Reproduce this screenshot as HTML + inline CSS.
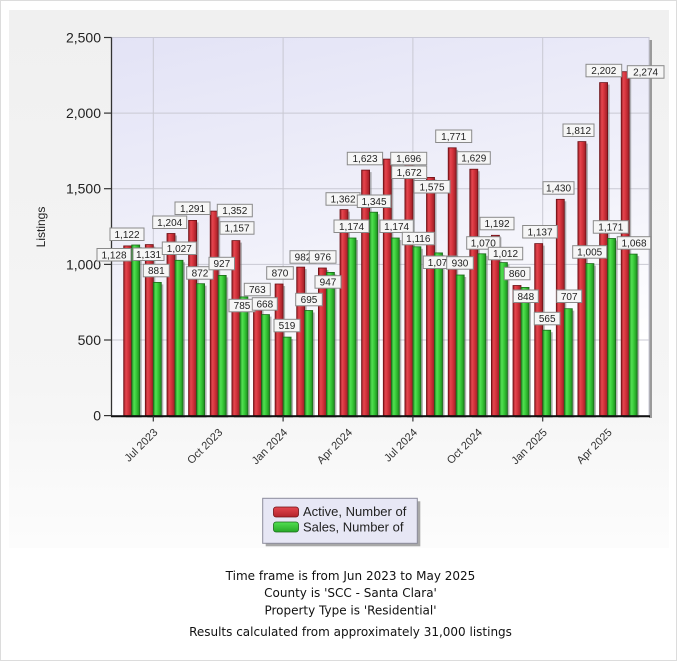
<!DOCTYPE html>
<html><head><meta charset="utf-8"><style>
html,body{margin:0;padding:0;background:#fff;}
svg{display:block;}
.lb rect{fill:#f6f6f6;stroke:#8a8a8a;stroke-width:1;}
.lb text{font-family:"Liberation Sans",sans-serif;font-size:10px;fill:#222;text-anchor:middle;}
.yt{font-family:"Liberation Sans",sans-serif;font-size:14px;fill:#222;text-anchor:end;}
.xt{font-family:"Liberation Sans",sans-serif;font-size:11px;fill:#333;text-anchor:end;}
.ft{font-family:"DejaVu Sans",sans-serif;font-size:12px;fill:#111;text-anchor:middle;}
</style></head><body>
<svg width="679" height="661" viewBox="0 0 679 661" xmlns="http://www.w3.org/2000/svg">
<defs>
<linearGradient id="pbg" x1="0" y1="0" x2="0.3" y2="1">
<stop offset="0" stop-color="#e3e3f6"/><stop offset="0.6" stop-color="#f1f1fa"/><stop offset="1" stop-color="#ffffff"/>
</linearGradient>
<linearGradient id="panel" x1="0" y1="0" x2="0" y2="1">
<stop offset="0" stop-color="#f0f0f0"/><stop offset="0.7" stop-color="#f5f5f5"/><stop offset="1" stop-color="#fcfcfc"/>
</linearGradient>
<linearGradient id="rg" x1="0" y1="0" x2="1" y2="0">
<stop offset="0" stop-color="#951b22"/><stop offset="0.28" stop-color="#e4464f"/><stop offset="0.55" stop-color="#d5333c"/><stop offset="1" stop-color="#9a1e26"/>
</linearGradient>
<linearGradient id="gg" x1="0" y1="0" x2="1" y2="0">
<stop offset="0" stop-color="#1f8c1f"/><stop offset="0.3" stop-color="#52e052"/><stop offset="0.6" stop-color="#36c836"/><stop offset="1" stop-color="#1e8a1e"/>
</linearGradient>
<linearGradient id="rgv" x1="0" y1="0" x2="0" y2="1">
<stop offset="0" stop-color="#e4464f"/><stop offset="1" stop-color="#b3232b"/>
</linearGradient>
<linearGradient id="ggv" x1="0" y1="0" x2="0" y2="1">
<stop offset="0" stop-color="#52e052"/><stop offset="1" stop-color="#26a826"/>
</linearGradient>
</defs>

<!-- page border & panel -->
<rect x="0.5" y="0.5" width="676" height="660" fill="#fff" stroke="#dcdcdc"/>
<rect x="9" y="10" width="660" height="538" fill="url(#panel)"/>

<!-- plot area -->
<rect x="649" y="40" width="3" height="378" fill="#9a9a9a"/>
<rect x="111.5" y="37.5" width="537.5" height="378.1" fill="url(#pbg)" stroke="#c8c8d6" stroke-width="1"/>

<!-- grid -->
<g stroke="#c9c9d3" stroke-width="1">
<line x1="111.5" y1="340" x2="649" y2="340"/>
<line x1="111.5" y1="264.4" x2="649" y2="264.4"/>
<line x1="111.5" y1="188.7" x2="649" y2="188.7"/>
<line x1="111.5" y1="113.1" x2="649" y2="113.1"/>
<line x1="153.3" y1="37.5" x2="153.3" y2="415.6"/>
<line x1="283.1" y1="37.5" x2="283.1" y2="415.6"/>
<line x1="412.9" y1="37.5" x2="412.9" y2="415.6"/>
<line x1="542.7" y1="37.5" x2="542.7" y2="415.6"/>
</g>

<!-- bars -->
<g stroke-width="0.8">
<g fill="#777" opacity="0.55">
<rect x="125.7" y="247.9" width="8" height="169.7"/><rect x="133.7" y="247" width="8" height="170.6"/>
<rect x="147.3" y="246.6" width="8" height="171"/><rect x="155.3" y="284.4" width="8" height="133.2"/>
<rect x="169" y="235.5" width="8" height="182.1"/><rect x="177" y="262.3" width="8" height="155.3"/>
<rect x="190.6" y="222.4" width="8" height="195.2"/><rect x="198.6" y="285.7" width="8" height="131.9"/>
<rect x="212.2" y="213.1" width="8" height="204.5"/><rect x="220.2" y="277.4" width="8" height="140.2"/>
<rect x="233.9" y="242.6" width="8" height="175"/><rect x="241.9" y="298.9" width="8" height="118.7"/>
<rect x="255.5" y="302.2" width="8" height="115.4"/><rect x="263.5" y="316.6" width="8" height="101"/>
<rect x="277.1" y="286" width="8" height="131.6"/><rect x="285.1" y="339.1" width="8" height="78.5"/>
<rect x="298.7" y="269.1" width="8" height="148.5"/><rect x="306.7" y="312.5" width="8" height="105.1"/>
<rect x="320.4" y="270" width="8" height="147.6"/><rect x="328.4" y="274.4" width="8" height="143.2"/>
<rect x="342" y="211.6" width="8" height="206"/><rect x="350" y="240" width="8" height="177.6"/>
<rect x="363.6" y="172.1" width="8" height="245.5"/><rect x="371.6" y="214.2" width="8" height="203.4"/>
<rect x="385.3" y="161.1" width="8" height="256.5"/><rect x="393.3" y="240" width="8" height="177.6"/>
<rect x="406.9" y="164.7" width="8" height="252.9"/><rect x="414.9" y="248.8" width="8" height="168.8"/>
<rect x="428.5" y="179.4" width="8" height="238.2"/><rect x="436.5" y="254.9" width="8" height="162.7"/>
<rect x="450.2" y="149.8" width="8" height="267.8"/><rect x="458.2" y="277" width="8" height="140.6"/>
<rect x="471.8" y="171.2" width="8" height="246.4"/><rect x="479.8" y="255.8" width="8" height="161.8"/>
<rect x="493.4" y="237.3" width="8" height="180.3"/><rect x="501.4" y="264.6" width="8" height="153"/>
<rect x="515" y="287.5" width="8" height="130.1"/><rect x="523" y="289.4" width="8" height="128.2"/>
<rect x="536.7" y="245.6" width="8" height="172"/><rect x="544.7" y="332.2" width="8" height="85.4"/>
<rect x="558.3" y="201.3" width="8" height="216.3"/><rect x="566.3" y="310.7" width="8" height="106.9"/>
<rect x="579.9" y="143.6" width="8" height="274"/><rect x="587.9" y="265.6" width="8" height="152"/>
<rect x="601.6" y="84.6" width="8" height="333"/><rect x="609.6" y="240.5" width="8" height="177.1"/>
<rect x="623.2" y="73.7" width="8" height="343.9"/><rect x="631.2" y="256.1" width="8" height="161.5"/>
</g>
<g>
<rect x="123.7" y="245.9" width="8" height="169.7" fill="url(#rg)" stroke="#6d1015"/><rect x="131.7" y="245" width="8" height="170.6" fill="url(#gg)" stroke="#1a6a1a"/>
<rect x="145.3" y="244.6" width="8" height="171" fill="url(#rg)" stroke="#6d1015"/><rect x="153.3" y="282.4" width="8" height="133.2" fill="url(#gg)" stroke="#1a6a1a"/>
<rect x="167" y="233.5" width="8" height="182.1" fill="url(#rg)" stroke="#6d1015"/><rect x="175" y="260.3" width="8" height="155.3" fill="url(#gg)" stroke="#1a6a1a"/>
<rect x="188.6" y="220.4" width="8" height="195.2" fill="url(#rg)" stroke="#6d1015"/><rect x="196.6" y="283.7" width="8" height="131.9" fill="url(#gg)" stroke="#1a6a1a"/>
<rect x="210.2" y="211.1" width="8" height="204.5" fill="url(#rg)" stroke="#6d1015"/><rect x="218.2" y="275.4" width="8" height="140.2" fill="url(#gg)" stroke="#1a6a1a"/>
<rect x="231.9" y="240.6" width="8" height="175" fill="url(#rg)" stroke="#6d1015"/><rect x="239.9" y="296.9" width="8" height="118.7" fill="url(#gg)" stroke="#1a6a1a"/>
<rect x="253.5" y="300.2" width="8" height="115.4" fill="url(#rg)" stroke="#6d1015"/><rect x="261.5" y="314.6" width="8" height="101" fill="url(#gg)" stroke="#1a6a1a"/>
<rect x="275.1" y="284" width="8" height="131.6" fill="url(#rg)" stroke="#6d1015"/><rect x="283.1" y="337.1" width="8" height="78.5" fill="url(#gg)" stroke="#1a6a1a"/>
<rect x="296.7" y="267.1" width="8" height="148.5" fill="url(#rg)" stroke="#6d1015"/><rect x="304.7" y="310.5" width="8" height="105.1" fill="url(#gg)" stroke="#1a6a1a"/>
<rect x="318.4" y="268" width="8" height="147.6" fill="url(#rg)" stroke="#6d1015"/><rect x="326.4" y="272.4" width="8" height="143.2" fill="url(#gg)" stroke="#1a6a1a"/>
<rect x="340" y="209.6" width="8" height="206" fill="url(#rg)" stroke="#6d1015"/><rect x="348" y="238" width="8" height="177.6" fill="url(#gg)" stroke="#1a6a1a"/>
<rect x="361.6" y="170.1" width="8" height="245.5" fill="url(#rg)" stroke="#6d1015"/><rect x="369.6" y="212.2" width="8" height="203.4" fill="url(#gg)" stroke="#1a6a1a"/>
<rect x="383.3" y="159.1" width="8" height="256.5" fill="url(#rg)" stroke="#6d1015"/><rect x="391.3" y="238" width="8" height="177.6" fill="url(#gg)" stroke="#1a6a1a"/>
<rect x="404.9" y="162.7" width="8" height="252.9" fill="url(#rg)" stroke="#6d1015"/><rect x="412.9" y="246.8" width="8" height="168.8" fill="url(#gg)" stroke="#1a6a1a"/>
<rect x="426.5" y="177.4" width="8" height="238.2" fill="url(#rg)" stroke="#6d1015"/><rect x="434.5" y="252.9" width="8" height="162.7" fill="url(#gg)" stroke="#1a6a1a"/>
<rect x="448.2" y="147.8" width="8" height="267.8" fill="url(#rg)" stroke="#6d1015"/><rect x="456.2" y="275" width="8" height="140.6" fill="url(#gg)" stroke="#1a6a1a"/>
<rect x="469.8" y="169.2" width="8" height="246.4" fill="url(#rg)" stroke="#6d1015"/><rect x="477.8" y="253.8" width="8" height="161.8" fill="url(#gg)" stroke="#1a6a1a"/>
<rect x="491.4" y="235.3" width="8" height="180.3" fill="url(#rg)" stroke="#6d1015"/><rect x="499.4" y="262.6" width="8" height="153" fill="url(#gg)" stroke="#1a6a1a"/>
<rect x="513" y="285.5" width="8" height="130.1" fill="url(#rg)" stroke="#6d1015"/><rect x="521" y="287.4" width="8" height="128.2" fill="url(#gg)" stroke="#1a6a1a"/>
<rect x="534.7" y="243.6" width="8" height="172" fill="url(#rg)" stroke="#6d1015"/><rect x="542.7" y="330.2" width="8" height="85.4" fill="url(#gg)" stroke="#1a6a1a"/>
<rect x="556.3" y="199.3" width="8" height="216.3" fill="url(#rg)" stroke="#6d1015"/><rect x="564.3" y="308.7" width="8" height="106.9" fill="url(#gg)" stroke="#1a6a1a"/>
<rect x="577.9" y="141.6" width="8" height="274" fill="url(#rg)" stroke="#6d1015"/><rect x="585.9" y="263.6" width="8" height="152" fill="url(#gg)" stroke="#1a6a1a"/>
<rect x="599.6" y="82.6" width="8" height="333" fill="url(#rg)" stroke="#6d1015"/><rect x="607.6" y="238.5" width="8" height="177.1" fill="url(#gg)" stroke="#1a6a1a"/>
<rect x="621.2" y="71.7" width="8" height="343.9" fill="url(#rg)" stroke="#6d1015"/><rect x="629.2" y="254.1" width="8" height="161.5" fill="url(#gg)" stroke="#1a6a1a"/>
</g>
</g>

<!-- axes -->
<line x1="111.5" y1="37.5" x2="111.5" y2="416.5" stroke="#333" stroke-width="1.3"/>
<line x1="111" y1="416.2" x2="650" y2="416.2" stroke="#111" stroke-width="2"/>
<g stroke="#333" stroke-width="1.2">
<line x1="104" y1="415.6" x2="111.5" y2="415.6"/>
<line x1="104" y1="340" x2="111.5" y2="340"/>
<line x1="104" y1="264.4" x2="111.5" y2="264.4"/>
<line x1="104" y1="188.7" x2="111.5" y2="188.7"/>
<line x1="104" y1="113.1" x2="111.5" y2="113.1"/>
<line x1="104" y1="37.5" x2="111.5" y2="37.5"/>
<line x1="153.3" y1="416" x2="153.3" y2="421.5"/>
<line x1="283.1" y1="416" x2="283.1" y2="421.5"/>
<line x1="412.9" y1="416" x2="412.9" y2="421.5"/>
<line x1="542.7" y1="416" x2="542.7" y2="421.5"/>
</g>

<!-- y tick labels -->
<text class="yt" x="101" y="420.6">0</text>
<text class="yt" x="101" y="345">500</text>
<text class="yt" x="101" y="269.4">1,000</text>
<text class="yt" x="101" y="193.7">1,500</text>
<text class="yt" x="101" y="118.1">2,000</text>
<text class="yt" x="101" y="42.5">2,500</text>
<text x="45" y="227" transform="rotate(-90 45 227)" text-anchor="middle" font-family="Liberation Sans, sans-serif" font-size="12" fill="#222">Listings</text>

<!-- x tick labels -->
<text class="xt" transform="translate(158.3 433) rotate(-45)">Jul 2023</text>
<text class="xt" transform="translate(223.2 433) rotate(-45)">Oct 2023</text>
<text class="xt" transform="translate(288.1 433) rotate(-45)">Jan 2024</text>
<text class="xt" transform="translate(353 433) rotate(-45)">Apr 2024</text>
<text class="xt" transform="translate(417.9 433) rotate(-45)">Jul 2024</text>
<text class="xt" transform="translate(482.8 433) rotate(-45)">Oct 2024</text>
<text class="xt" transform="translate(547.7 433) rotate(-45)">Jan 2025</text>
<text class="xt" transform="translate(612.6 433) rotate(-45)">Apr 2025</text>

<!-- data labels -->
<g class="lb">
<rect x="110" y="228" width="34" height="12.5"/><text x="127" y="237.8">1,122</text>
<rect x="97" y="248.5" width="34" height="12.5"/><text x="114" y="258.3">1,128</text>
<rect x="133" y="248" width="31" height="12.5"/><text x="148.5" y="257.8">1,131</text>
<rect x="143.3" y="264.3" width="26" height="12.5"/><text x="156.3" y="274.1">881</text>
<rect x="152.7" y="216" width="34" height="12.5"/><text x="169.7" y="225.8">1,204</text>
<rect x="162.3" y="242" width="34" height="12.5"/><text x="179.3" y="251.8">1,027</text>
<rect x="175" y="202" width="35" height="12.5"/><text x="192.5" y="211.8">1,291</text>
<rect x="186.7" y="266.7" width="26.5" height="12.5"/><text x="200" y="276.5">872</text>
<rect x="217.3" y="204.3" width="35" height="12.5"/><text x="234.8" y="214.1">1,352</text>
<rect x="209" y="257.3" width="25.5" height="12.5"/><text x="221.8" y="267.1">927</text>
<rect x="220" y="221.7" width="34" height="12.5"/><text x="237" y="231.5">1,157</text>
<rect x="229" y="299.3" width="26" height="12.5"/><text x="242" y="309.1">785</text>
<rect x="244.3" y="283.3" width="26" height="12.5"/><text x="257.3" y="293.1">763</text>
<rect x="252.3" y="297.7" width="25" height="12.5"/><text x="264.8" y="307.5">668</text>
<rect x="266.7" y="266.7" width="26.6" height="12.5"/><text x="280" y="276.5">870</text>
<rect x="274" y="319.3" width="26" height="12.5"/><text x="287" y="329.1">519</text>
<rect x="290" y="250.7" width="26" height="12.5"/><text x="303" y="260.5">982</text>
<rect x="295.7" y="293.3" width="26.6" height="12.5"/><text x="309" y="303.1">695</text>
<rect x="309.3" y="250.7" width="26.7" height="12.5"/><text x="322.7" y="260.5">976</text>
<rect x="315" y="275.7" width="26" height="12.5"/><text x="328" y="285.5">947</text>
<rect x="326" y="192.7" width="34" height="12.5"/><text x="343" y="202.5">1,362</text>
<rect x="334" y="220" width="35" height="12.5"/><text x="351.5" y="229.8">1,174</text>
<rect x="347.3" y="152.3" width="35.3" height="12.5"/><text x="365" y="162.1">1,623</text>
<rect x="357.3" y="195" width="33.5" height="12.5"/><text x="374" y="204.8">1,345</text>
<rect x="390.7" y="152.3" width="36" height="12.5"/><text x="408.7" y="162.1">1,696</text>
<rect x="380" y="220" width="33.3" height="12.5"/><text x="396.6" y="229.8">1,174</text>
<rect x="391.7" y="166" width="35" height="12.5"/><text x="409.2" y="175.8">1,672</text>
<rect x="402.3" y="232.3" width="32" height="12.5"/><text x="418.3" y="242.1">1,116</text>
<rect x="414" y="180.5" width="36" height="12.5"/><text x="432" y="190.3">1,575</text>
<rect x="423.3" y="256" width="34" height="12.5"/><text x="440.3" y="265.8">1,076</text>
<rect x="435.7" y="130" width="36" height="12.5"/><text x="453.7" y="139.8">1,771</text>
<rect x="446.7" y="256.7" width="26.6" height="12.5"/><text x="460" y="266.5">930</text>
<rect x="457.3" y="151.7" width="33" height="12.5"/><text x="473.8" y="161.5">1,629</text>
<rect x="466.7" y="236.7" width="33.3" height="12.5"/><text x="483.3" y="246.5">1,070</text>
<rect x="480" y="217.3" width="34" height="12.5"/><text x="497" y="227.1">1,192</text>
<rect x="488.3" y="247.3" width="34.4" height="12.5"/><text x="505.5" y="257.1">1,012</text>
<rect x="504.3" y="267.3" width="25.7" height="12.5"/><text x="517.2" y="277.1">860</text>
<rect x="513.3" y="290" width="25" height="12.5"/><text x="525.8" y="299.8">848</text>
<rect x="522.7" y="225.5" width="34.6" height="12.5"/><text x="540" y="235.3">1,137</text>
<rect x="534.3" y="312.3" width="25.7" height="12.5"/><text x="547.2" y="322.1">565</text>
<rect x="543" y="181.7" width="31" height="12.5"/><text x="558.5" y="191.5">1,430</text>
<rect x="556.7" y="290" width="25" height="12.5"/><text x="569.2" y="299.8">707</text>
<rect x="563" y="124" width="31" height="12.5"/><text x="578.5" y="133.8">1,812</text>
<rect x="572.7" y="245.7" width="34" height="12.5"/><text x="589.7" y="255.5">1,005</text>
<rect x="586" y="64.3" width="35.7" height="12.5"/><text x="603.8" y="74.1">2,202</text>
<rect x="593.3" y="220.7" width="35" height="12.5"/><text x="610.8" y="230.5">1,171</text>
<rect x="627.3" y="65.7" width="36.7" height="12.5"/><text x="645.6" y="75.5">2,274</text>
<rect x="617.3" y="236.7" width="33.4" height="12.5"/><text x="634" y="246.5">1,068</text>
</g>

<!-- legend -->
<rect x="265.7" y="501.3" width="154.6" height="45" fill="#a8a8a8"/>
<rect x="262.7" y="498.3" width="154.6" height="45" fill="#e7e7f5" stroke="#8c8c9c" stroke-width="1"/>
<rect x="273.5" y="507" width="25" height="10" rx="2.5" fill="url(#rgv)" stroke="#6d1015" stroke-width="0.8"/>
<rect x="273.5" y="522" width="25" height="10" rx="2.5" fill="url(#ggv)" stroke="#1a6a1a" stroke-width="0.8"/>
<text x="303" y="516" font-family="Liberation Sans, sans-serif" font-size="13" fill="#222">Active, Number of</text>
<text x="303" y="531.5" font-family="Liberation Sans, sans-serif" font-size="13" fill="#222">Sales, Number of</text>

<!-- footer -->
<text class="ft" x="350.5" y="580">Time frame is from Jun 2023 to May 2025</text>
<text class="ft" x="350.5" y="597">County is 'SCC - Santa Clara'</text>
<text class="ft" x="350.5" y="614.3">Property Type is 'Residential'</text>
<text class="ft" x="350.5" y="636">Results calculated from approximately 31,000 listings</text>
</svg>
</body></html>
